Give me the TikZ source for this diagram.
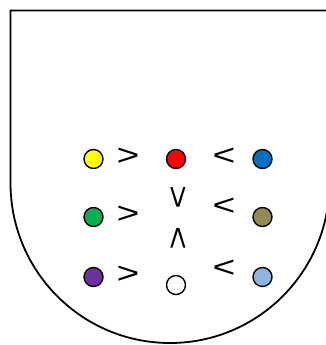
\documentclass[tikz,border=0pt]{standalone}
\usepackage{fontspec}
\setmainfont{Liberation Sans}
\definecolor{cyellow}{HTML}{FFFF00}
\definecolor{cred}{HTML}{FF0000}
\definecolor{cblue}{HTML}{0070C0}
\definecolor{cgreen}{HTML}{00B050}
\definecolor{colive}{HTML}{948A54}
\definecolor{cpurple}{HTML}{7030A0}
\definecolor{clight}{HTML}{8DB4E2}
\tikzset{
  dot/.style={circle, draw=black, line width=1.4pt, minimum size=19pt, inner sep=0pt},
  rel/.style={inner sep=0pt, font=\fontsize{30}{30}\selectfont, xscale=1.3},
  vrel/.style={inner sep=0pt, font=\fontsize{30}{30}\selectfont, yscale=1.35},
  shield/.style={draw=black, line width=1.8pt}
}
\begin{document}
\begin{tikzpicture}[x=1pt,y=-1pt]
\useasboundingbox (0,0) rectangle (326,345);
\begin{scope}
\clip (0,0) rectangle (326,345);
\draw[shield] (10.5,10.5) -- (10.5,183) .. controls (10.5,271.4) and (81.9,343) .. (170,343) .. controls (258.1,343) and (329.5,271.4) .. (329.5,183) -- (329.5,10.5) -- cycle;
\end{scope}
\node[dot, fill=cyellow] (yellow) at (93.5,159) {};
\node[dot, fill=cred] (red) at (176,159) {};
\node[dot, fill=cblue] (blue) at (262.5,159) {};
\node[dot, fill=cgreen] (green) at (93.5,217) {};
\node[dot, fill=colive] (olive) at (262.5,217) {};
\node[dot, fill=cpurple] (purple) at (93.5,277) {};
\node[dot, fill=white] (white) at (176,285) {};
\node[dot, fill=clight] (light) at (262.5,277) {};
\node[rel] (g1) at (128,157) {>};
\node[rel] (g2) at (128,215) {>};
\node[rel] (g3) at (128,275) {>};
\node[rel] (l1) at (224,157) {<};
\node[rel] (l2) at (224,207) {<};
\node[rel] (l3) at (224,269) {<};
\node[vrel, rotate=-90] (v1) at (177,197) {>};
\node[vrel, rotate=-90] (v2) at (177,238) {<};
\end{tikzpicture}
\end{document}
